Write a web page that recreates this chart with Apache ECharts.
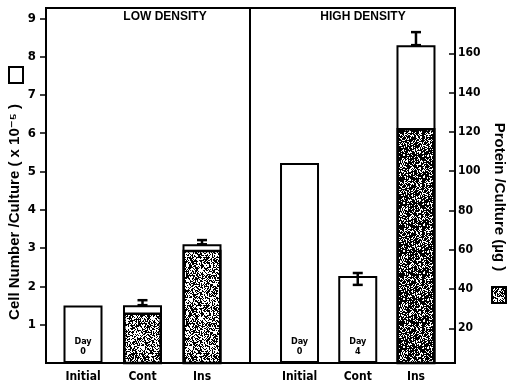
<!DOCTYPE html>
<html>
<head>
<meta charset="utf-8">
<script src="https://cdn.jsdelivr.net/npm/echarts@6/dist/echarts.min.js"></script>
<style>html,body{margin:0;padding:0;background:#fff}#c{width:511px;height:384px}</style>
</head>
<body>
<div id="c"></div>
<script>
// ---- data ----
const categories = ['Initial', 'Cont', 'Ins'];
const dayLabels = ['Day\n0', 'Day\n4', 'Day\n4'];
const lowCells = [1.5, 1.51, 3.1];
const highCells = [5.22, 2.27, 8.3];
const lowProtein = [null, 28, 60];
const highProtein = [null, null, 122];
const lowErrUpper = [null, 1.64, 3.21];
const lowErrLower = [null, 1.51, 3.1];
const highErrUpper = [null, 2.35, 8.64];
const highErrLower = [null, 2.04, 8.3];
const cellTicks = [1, 2, 3, 4, 5, 6, 7, 8, 9];
const proteinTicks = [20, 40, 60, 80, 100, 120, 140, 160];
const panelTitles = ['LOW DENSITY', 'HIGH DENSITY'];
const leftTitle = 'Cell Number /Culture ( x 10\u207B\u2075 )';
const rightTitle = 'Protein /Culture (\u00B5g )';

// ---- style ----
const FONT = "'Liberation Sans Narrow','DejaVu Sans Condensed','Liberation Sans',sans-serif";
const TFONT = "'Liberation Sans','DejaVu Sans',sans-serif";
const CELL_MIN = 0, CELL_MAX = 9.27;
const PROT_MIN = 2.34, PROT_MAX = 183.1;

function makePattern(density, seed) {
  const n = 48;
  const c = document.createElement('canvas');
  c.width = n; c.height = n;
  const ctx = c.getContext('2d');
  ctx.fillStyle = '#fff'; ctx.fillRect(0, 0, n, n);
  ctx.fillStyle = '#000';
  let s = seed >>> 0;
  const rnd = () => ((s = (Math.imul(s, 1664525) + 1013904223) >>> 0) / 4294967296);
  for (let y = 0; y < n; y++) for (let x = 0; x < n; x++) {
    if (rnd() < density) ctx.fillRect(x, y, 1, 1);
  }
  return c;
}
const lowPat = makePattern(0.5, 12345);
const highPat = makePattern(0.68, 987);

const chart = echarts.init(document.getElementById('c'), null, {renderer: 'canvas'});

function errSeries(xi, yi, upper, lower) {
  return {
    type: 'custom', xAxisIndex: xi, yAxisIndex: yi, z: 5,
    data: categories.map((c, i) => [i, lower[i], upper[i]]),
    renderItem: function (params, api) {
      if (api.value(2) == null || isNaN(api.value(2))) return null;
      const lo = api.coord([api.value(0), api.value(1)]);
      const hi = api.coord([api.value(0), api.value(2)]);
      const w = 5;
      const st = {stroke: '#000', lineWidth: 2.5};
      return {type: 'group', children: [
        {type: 'line', shape: {x1: hi[0], y1: hi[1], x2: lo[0], y2: lo[1]}, style: st},
        {type: 'line', shape: {x1: hi[0] - w, y1: hi[1], x2: hi[0] + w, y2: hi[1]}, style: st},
        {type: 'line', shape: {x1: lo[0] - w, y1: lo[1], x2: lo[0] + w, y2: lo[1]}, style: st}
      ]};
    }
  };
}

function cellSeries(xi, yi, vals) {
  return {
    type: 'bar', xAxisIndex: xi, yAxisIndex: yi, barWidth: 39, barGap: '-100%', z: 2,
    data: vals,
    itemStyle: {color: '#fff', borderColor: '#000', borderWidth: 2},
    label: {
      show: true, position: 'insideBottom', distance: 6,
      formatter: p => dayLabels[p.dataIndex],
      fontFamily: FONT, fontWeight: 'bold', fontSize: 9, lineHeight: 10, color: '#000'
    }
  };
}
function protSeries(xi, yi, vals, pat) {
  return {
    type: 'bar', xAxisIndex: xi, yAxisIndex: yi, barWidth: 39, barGap: '-100%', z: 3,
    data: vals,
    itemStyle: {color: {image: pat, repeat: 'repeat'}, borderColor: '#000', borderWidth: 2.5}
  };
}

const hiddenY = (min, max, gi) => ({type: 'value', gridIndex: gi, min: min, max: max, show: false});
const catX = gi => ({
  type: 'category', gridIndex: gi, data: categories,
  axisLine: {show: false}, axisTick: {show: false},
  axisLabel: {fontFamily: FONT, fontWeight: 'bold', fontSize: 12, color: '#000', margin: 8}
});

const option = {
  animation: false,
  backgroundColor: '#fff',
  grid: [
    {left: 46, right: 56, top: 8, bottom: 21, show: true, borderColor: '#000', borderWidth: 2, backgroundColor: 'transparent'},
    {left: 53.25, right: 279.25, top: 8, bottom: 21},
    {left: 270.4, right: 65.9, top: 8, bottom: 21}
  ],
  xAxis: [
    {type: 'category', gridIndex: 0, data: ['x'], show: false},
    catX(1),
    catX(2)
  ],
  yAxis: [
    {
      type: 'value', gridIndex: 0, position: 'left', min: CELL_MIN, max: CELL_MAX,
      axisLine: {show: true, lineStyle: {color: '#000', width: 2}},
      axisTick: {show: true, inside: false, length: 6, lineStyle: {color: '#000', width: 1.5}, customValues: cellTicks},
      axisLabel: {customValues: cellTicks, fontFamily: FONT, fontWeight: 'bold', fontSize: 13, color: '#000', margin: 10},
      splitLine: {show: false}
    },
    {
      type: 'value', gridIndex: 0, position: 'right', min: PROT_MIN, max: PROT_MAX,
      axisLine: {show: true, lineStyle: {color: '#000', width: 2}},
      axisTick: {show: true, inside: true, length: 6, lineStyle: {color: '#000', width: 1.5}, customValues: proteinTicks},
      axisLabel: {customValues: proteinTicks, fontFamily: FONT, fontWeight: 'bold', fontSize: 12, color: '#000', margin: 3},
      splitLine: {show: false}
    },
    hiddenY(CELL_MIN, CELL_MAX, 1),
    hiddenY(PROT_MIN, PROT_MAX, 1),
    hiddenY(CELL_MIN, CELL_MAX, 2),
    hiddenY(PROT_MIN, PROT_MAX, 2)
  ],
  series: [
    cellSeries(1, 2, lowCells),
    protSeries(1, 3, lowProtein, lowPat),
    errSeries(1, 2, lowErrUpper, lowErrLower),
    cellSeries(2, 4, highCells),
    protSeries(2, 5, highProtein, highPat),
    errSeries(2, 4, highErrUpper, highErrLower)
  ],
  graphic: [
    {type: 'line', shape: {x1: 250, y1: 8, x2: 250, y2: 363}, style: {stroke: '#000', lineWidth: 2}, z: 10},
    {type: 'text', x: 165, y: 17, style: {text: panelTitles[0], font: 'bold 12px ' + TFONT, fill: '#000', align: 'center', verticalAlign: 'middle'}},
    {type: 'text', x: 363, y: 17, style: {text: panelTitles[1], font: 'bold 12px ' + TFONT, fill: '#000', align: 'center', verticalAlign: 'middle'}},
    {type: 'text', x: 15, y: 212, rotation: Math.PI / 2, style: {text: leftTitle, font: 'bold 15px ' + TFONT, fill: '#000', align: 'center', verticalAlign: 'middle'}},
    {type: 'rect', shape: {x: 9, y: 67, width: 14, height: 16}, style: {fill: '#fff', stroke: '#000', lineWidth: 2}},
    {type: 'text', x: 499, y: 197, rotation: -Math.PI / 2, style: {text: rightTitle, font: 'bold 15px ' + TFONT, fill: '#000', align: 'center', verticalAlign: 'middle'}},
    {type: 'rect', shape: {x: 492, y: 287, width: 14, height: 16}, style: {fill: {image: lowPat, repeat: 'repeat'}, stroke: '#000', lineWidth: 2}}
  ]
};
chart.setOption(option);
</script>
</body>
</html>
